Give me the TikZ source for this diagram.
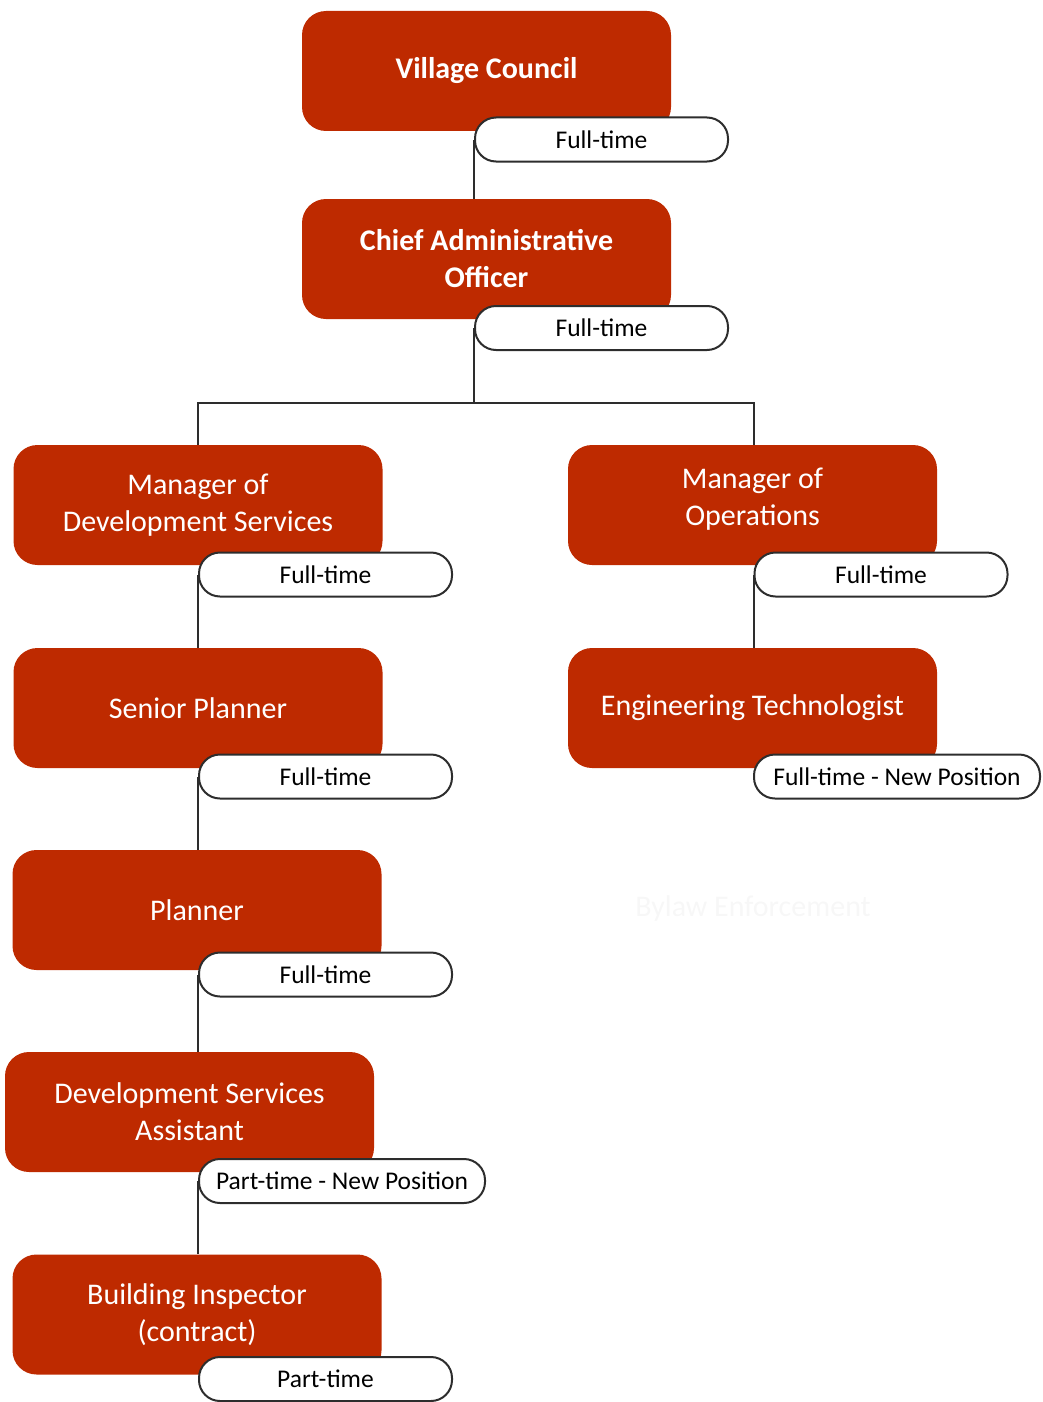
\documentclass[tikz,border=0pt]{standalone}
\usepackage{fontspec}
\setmainfont{Carlito}
\definecolor{boxred}{RGB}{190,42,0}
\definecolor{linegray}{RGB}{45,45,45}
\begin{document}
\begin{tikzpicture}[x=1pt,y=-1pt,
  boxtext/.style={text=white, align=center, inner sep=0pt,
    font=\fontsize{30}{37}\selectfont},
  posbox/.style={boxtext, fill=boxred, draw=none, rounded corners=24pt,
    minimum width=369pt, minimum height=120pt},
  topbox/.style={posbox, font=\bfseries\fontsize{30}{37}\selectfont},
  pill/.style={fill=white, draw=linegray, line width=2pt, rounded corners=21pt,
    minimum width=253pt, minimum height=44pt, inner sep=0pt, text=black,
    font=\fontsize{25.5}{28}\selectfont},
  widepill/.style={pill, minimum width=286pt},
  link/.style={draw=linegray, line width=2pt}]
\useasboundingbox (0,0) rectangle (1042,1402);

% position boxes
\node[topbox] (vc)  at (486.5,71) {Village Council};
\node[topbox] (cao) at (486.5,259) {Chief Administrative\\Officer};
\node[posbox] (mds) at (198,505) {Manager of\\Development Services};
\node[posbox] (mop) at (752.5,505) {};
\node[boxtext] (moptext) at (752.5,499) {Manager of\\Operations};
\node[posbox] (sp)  at (198,708) {Senior Planner};
\node[posbox] (et)  at (752.5,708) {Engineering Technologist};
\node[posbox] (pl)  at (197,910) {Planner};
\node[posbox] (dsa) at (189.5,1112) {Development Services\\Assistant};
\node[posbox] (bi)  at (197,1314.5) {Building Inspector\\(contract)};
\node[boxtext, text=white!97!black] (bylaw) at (753,908) {Bylaw Enforcement};

% employment status tags
\node[pill] (vcp)  at (601.5,139.5) {Full-time};
\node[pill] (caop) at (601.5,328) {Full-time};
\node[pill] (mdsp) at (325.5,574.5) {Full-time};
\node[pill] (mopp) at (881,574.5) {Full-time};
\node[pill] (spp)  at (325.5,776.5) {Full-time};
\node[widepill] (etp) at (897,776.5) {Full-time - New Position};
\node[pill] (plp)  at (325.5,974.5) {Full-time};
\node[widepill] (dsap) at (342,1181) {Part-time - New Position};
\node[pill] (bip)  at (325.5,1379) {Part-time};

% reporting lines
\coordinate (bus) at (474,403);
\draw[link] (vcp.west) -- (vcp.west |- cao.north);
\draw[link] (caop.west) -- (bus);
\draw[link] (mdsp.west |- mds.north) |- (bus) -| (mopp.west |- mop.north);
\draw[link] (mdsp.west) -- (mdsp.west |- sp.north);
\draw[link] (mopp.west) -- (mopp.west |- et.north);
\draw[link] (spp.west) -- (spp.west |- pl.north);
\draw[link] (plp.west) -- (plp.west |- dsa.north);
\draw[link] (dsap.west) -- (dsap.west |- bi.north);
\end{tikzpicture}
\end{document}
